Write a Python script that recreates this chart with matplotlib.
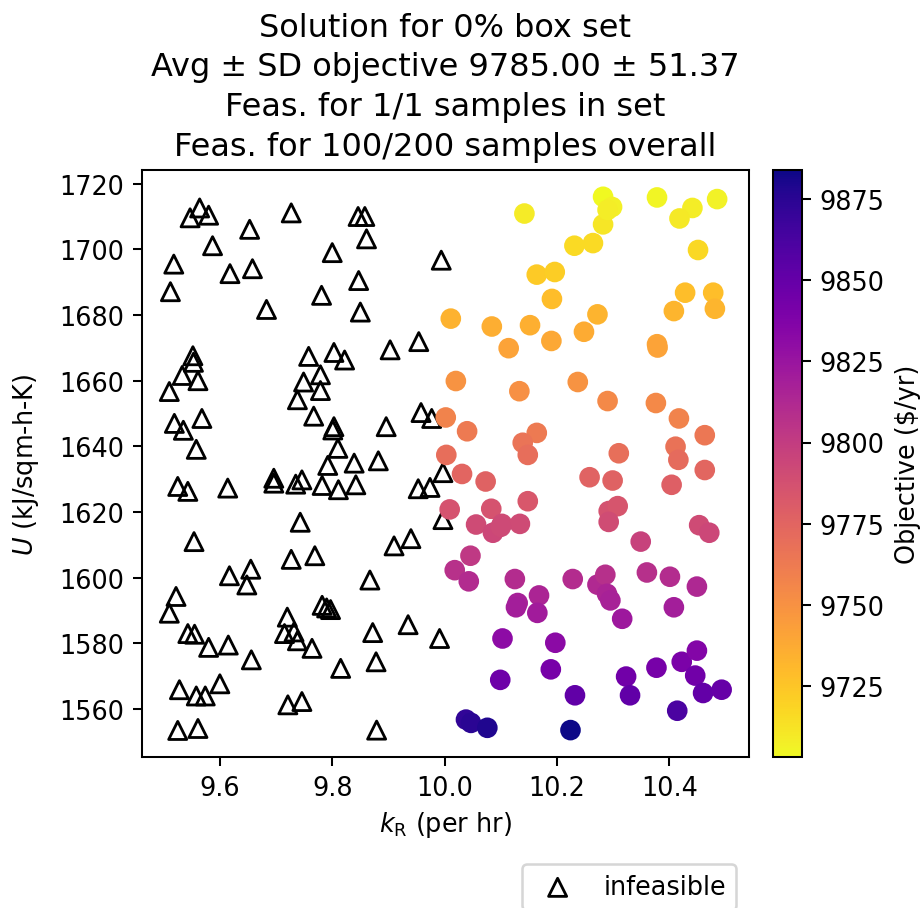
import matplotlib
matplotlib.use("Agg")
import matplotlib.pyplot as plt
import numpy as np

# Infeasible samples: reaction rate constant k_R (per hr) and heat transfer coefficient U
infeas_k = [9.564, 9.547, 9.580, 9.727, 9.846, 9.858, 9.861, 9.653, 9.587, 9.518,
            9.800, 9.994, 9.618, 9.658, 9.512, 9.847, 9.781, 9.683, 9.850, 9.552,
            9.553, 9.533, 9.561, 9.510, 9.758, 9.803, 9.822, 9.903, 9.954, 9.779,
            9.749, 9.779, 9.738, 9.519, 9.535, 9.568, 9.767, 9.803, 9.896, 9.958,
            9.977, 9.558, 9.810, 9.792, 9.839, 9.882, 9.525, 9.543, 9.614, 9.696,
            9.696, 9.735, 9.746, 9.782, 9.811, 9.842, 9.953, 9.974, 9.997, 9.997,
            9.743, 9.554, 9.910, 9.940, 9.727, 9.769, 9.617, 9.655, 9.648, 9.867,
            9.522, 9.510, 9.782, 9.797, 9.720, 9.715, 9.732, 9.738, 9.764, 9.543,
            9.555, 9.580, 9.615, 9.656, 9.872, 9.935, 9.991, 9.878, 9.815, 9.528,
            9.558, 9.574, 9.600, 9.721, 9.746, 9.525, 9.561, 9.879, 9.801, 9.790]
infeas_U = [1712.6, 1709.6, 1710.4, 1711.1, 1710.0, 1710.0, 1703.2, 1706.1, 1701.1, 1695.5,
            1699.0, 1696.7, 1692.6, 1694.1, 1687.1, 1690.5, 1686.0, 1681.7, 1680.9, 1667.6,
            1665.6, 1661.6, 1660.0, 1656.7, 1667.4, 1668.6, 1666.3, 1669.4, 1671.9, 1661.8,
            1659.6, 1657.0, 1654.2, 1647.0, 1644.9, 1648.5, 1649.2, 1646.0, 1646.0, 1650.3,
            1648.5, 1639.1, 1639.4, 1634.2, 1634.9, 1635.6, 1627.8, 1626.3, 1627.3, 1630.3,
            1628.8, 1628.5, 1629.8, 1628.1, 1626.8, 1628.3, 1627.1, 1627.5, 1632.0, 1617.7,
            1616.9, 1611.0, 1609.7, 1611.9, 1605.6, 1606.7, 1600.6, 1602.6, 1597.8, 1599.3,
            1594.3, 1589.2, 1591.6, 1590.3, 1588.0, 1583.0, 1583.5, 1580.8, 1578.5, 1583.0,
            1582.8, 1578.8, 1579.5, 1575.0, 1583.3, 1585.7, 1581.5, 1574.4, 1572.4, 1565.9,
            1564.0, 1564.0, 1567.7, 1561.3, 1562.3, 1553.5, 1554.1, 1553.6, 1645.0, 1590.8]

# Feasible samples with their annual objective ($/yr)
feas_k = [10.282, 10.298, 10.282, 10.378, 10.441, 10.418, 10.485, 10.142, 10.451, 10.231,
          10.264, 10.164, 10.196, 10.191, 10.428, 10.478, 10.481, 10.408, 10.011, 10.084,
          10.152, 10.272, 10.248, 10.190, 10.114, 10.378, 10.379, 10.020, 10.133, 10.237,
          10.290, 10.376, 10.417, 10.463, 10.002, 10.040, 10.164, 10.139, 10.148, 10.003,
          10.310, 10.411, 10.416, 10.463, 10.031, 10.073, 10.258, 10.299, 10.404, 10.009,
          10.083, 10.148, 10.056, 10.086, 10.102, 10.134, 10.292, 10.308, 10.292, 10.453,
          10.471, 10.349, 10.046, 10.018, 10.043, 10.125, 10.228, 10.272, 10.286, 10.289,
          10.295, 10.316, 10.360, 10.401, 10.449, 10.408, 10.130, 10.127, 10.168, 10.165,
          10.103, 10.197, 10.099, 10.189, 10.232, 10.323, 10.330, 10.377, 10.422, 10.449,
          10.446, 10.460, 10.493, 10.414, 10.038, 10.047, 10.076, 10.224, 10.290, 10.100]
feas_U = [1716.0, 1712.9, 1707.6, 1715.8, 1712.6, 1709.4, 1715.3, 1710.9, 1699.8, 1701.1,
          1701.9, 1692.3, 1693.1, 1684.9, 1686.8, 1686.8, 1681.9, 1681.2, 1678.9, 1676.5,
          1676.9, 1680.2, 1674.9, 1672.1, 1669.9, 1671.1, 1670.1, 1659.9, 1656.8, 1659.6,
          1653.8, 1653.2, 1648.5, 1643.4, 1648.8, 1644.6, 1644.1, 1641.1, 1637.4, 1637.4,
          1637.9, 1639.9, 1635.9, 1632.8, 1631.6, 1629.3, 1630.6, 1629.6, 1628.3, 1620.8,
          1621.0, 1623.3, 1616.2, 1613.7, 1616.4, 1616.4, 1620.3, 1621.8, 1617.0, 1616.0,
          1613.7, 1611.0, 1606.7, 1602.3, 1598.9, 1599.6, 1599.6, 1597.9, 1600.9, 1595.1,
          1593.1, 1587.5, 1601.6, 1600.3, 1597.3, 1591.0, 1592.3, 1591.0, 1594.6, 1589.3,
          1581.5, 1580.2, 1568.9, 1572.1, 1564.2, 1569.9, 1564.2, 1572.6, 1574.4, 1577.8,
          1570.2, 1564.9, 1565.9, 1559.5, 1556.8, 1555.8, 1554.3, 1553.6, 1712.0, 1615.5]
feas_obj = [9703, 9707, 9711, 9705, 9708, 9710, 9706, 9709, 9717, 9716,
            9716, 9723, 9722, 9729, 9728, 9728, 9732, 9732, 9734, 9736,
            9735, 9733, 9737, 9739, 9741, 9740, 9741, 9749, 9751, 9749,
            9754, 9754, 9758, 9764, 9758, 9763, 9763, 9766, 9770, 9770,
            9769, 9767, 9771, 9774, 9775, 9777, 9776, 9777, 9778, 9786,
            9786, 9783, 9791, 9793, 9791, 9791, 9787, 9785, 9790, 9791,
            9793, 9797, 9802, 9807, 9811, 9810, 9810, 9812, 9808, 9815,
            9817, 9823, 9808, 9810, 9813, 9819, 9818, 9819, 9815, 9821,
            9831, 9832, 9846, 9842, 9852, 9845, 9852, 9842, 9840, 9836,
            9845, 9851, 9850, 9862, 9872, 9875, 9879, 9884, 9708, 9792]

title_lines = [
    "Solution for 0% box set",
    "Avg \u00b1 SD objective 9785.00 \u00b1 51.37",
    "Feas. for 1/1 samples in set",
    "Feas. for 100/200 samples overall",
]

fig = plt.figure(figsize=(5.0, 4.94), dpi=184)
ax = fig.add_axes([0.154, 0.166, 0.6604, 0.6458])
cax = fig.add_axes([0.8399, 0.166, 0.0315, 0.6458])

ax.scatter(infeas_k, infeas_U, marker="^", s=50, facecolors="none",
           edgecolors="black", linewidths=1.1, label="infeasible")
sc = ax.scatter(feas_k, feas_U, c=feas_obj, cmap="plasma_r", s=50)

cb = fig.colorbar(sc, cax=cax)
cb.set_label(r"Objective (\$/yr)")

ax.set_xlabel(r"$k_\mathrm{R}$ (per hr)", labelpad=3)
ax.set_ylabel(r"$U$ (kJ/sqm-h-K)", labelpad=7)
ax.set_title("\n".join(title_lines), fontsize=12.5, linespacing=1.36)
ax.legend(loc="upper right", bbox_to_anchor=(1.0, -0.16))

fig.savefig("out.png", dpi=184)
